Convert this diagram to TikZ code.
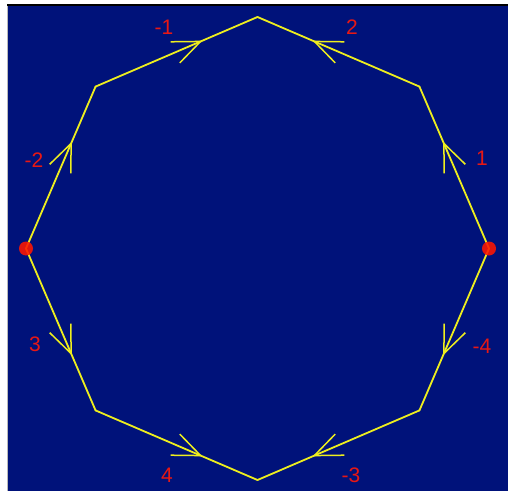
\documentclass[tikz,border=0pt]{standalone}
\usepackage{fontspec}
\setmainfont{Liberation Sans}
\usetikzlibrary{arrows.meta, decorations.markings}
\definecolor{navy}{RGB}{0,18,122}
\definecolor{pathyellow}{RGB}{238,238,30}
\definecolor{numred}{RGB}{232,24,20}
\definecolor{dotred}{RGB}{255,22,0}
\tikzset{side/.style={draw=pathyellow, line width=1.8pt, line cap=round,
  postaction={decorate},
  decoration={markings, mark=at position 0.66 with {\arrow{Straight Barb[length=27.7pt, width=23pt, line width=1.5pt]}}}},
dot/.style={circle, fill=dotred, fill opacity=0.88, inner sep=0pt, minimum size=14pt},
num/.style={text=numred, font=\fontsize{21}{21}\selectfont, inner sep=0pt}
}

\begin{document}
\begin{tikzpicture}[x=1pt, y=1pt]
\useasboundingbox (0,0) rectangle (508,491);
\fill[white] (0,0) rectangle (508,491);
\fill[navy] (8,0) rectangle (508,485);
% sunken frame
\draw[gray!55, line width=1pt] (7.5,0) -- (7.5,486);
\draw[black, line width=2pt] (7,485.5) -- (508,485.5);
% corners of the octagon, v0 on the right, counter-clockwise
\foreach \a/\r [count=\i from 0] in {0/231.5,45/229,90/231.5,135/229,180/231.5,225/229,270/231.5,315/229}
  \coordinate (v\i) at ([shift={(257.5,242.5)}]\a:\r);
% the four paths from the two points
\foreach \s/\t in {4/3,3/2,0/1,1/2,4/5,5/6,0/7,7/6}
  \draw[side] (v\s) -- (v\t);
\node[dot] (left) at (v4) {};
\node[dot] (right) at (v0) {};
% edge numbers
\node[num] (m1) at (164,464) {-1};
\node[num] (p2) at (352,464) {2};
\node[num] (p1) at (482,333) {1};
\node[num] (m2) at (34,331) {-2};
\node[num] (p3) at (35,147) {3};
\node[num] (m4) at (482,145) {-4};
\node[num] (p4) at (167,16) {4};
\node[num] (m3) at (351,16) {-3};
\end{tikzpicture}
\end{document}
